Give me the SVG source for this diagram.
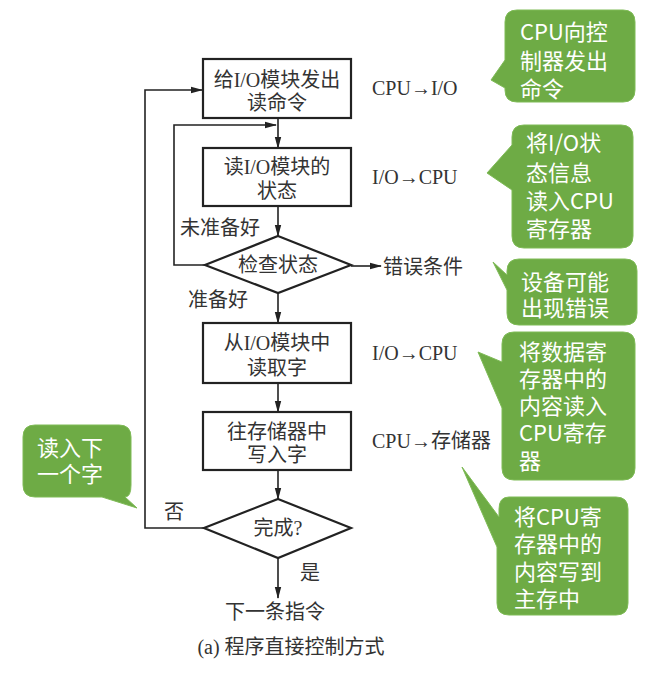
<svg xmlns="http://www.w3.org/2000/svg" width="653" height="675" viewBox="0 0 653 675">
<defs>
<marker id="ah" markerWidth="12" markerHeight="8" refX="11" refY="4" orient="auto" markerUnits="userSpaceOnUse">
<path d="M0,0.8 L12,4 L0,7.2 Z" fill="#222"/>
</marker>
<style>
.box{fill:#fff;stroke:#222;stroke-width:2.2}
.ln{fill:none;stroke:#222;stroke-width:1.6}
.t{font-family:"Liberation Serif","Noto Sans CJK SC",serif;font-size:20px;fill:#333}
.c{text-anchor:middle}
.g{fill:#6eab45;stroke:#7fbb57;stroke-width:1}
.gt{font-family:"Noto Sans CJK SC","Noto Sans",sans-serif;font-size:22px;fill:#fff}
</style>
</defs>
<rect width="653" height="675" fill="#fff"/>

<g id="connectors">
<line class="ln" x1="278" y1="118" x2="278" y2="148" marker-end="url(#ah)"/>
<line class="ln" x1="278" y1="206" x2="278" y2="236" marker-end="url(#ah)"/>
<line class="ln" x1="278" y1="293" x2="278" y2="323" marker-end="url(#ah)"/>
<line class="ln" x1="278" y1="383" x2="278" y2="412" marker-end="url(#ah)"/>
<line class="ln" x1="278" y1="470" x2="278" y2="499" marker-end="url(#ah)"/>
<line class="ln" x1="278" y1="558" x2="278" y2="598" marker-end="url(#ah)"/>
<line class="ln" x1="351" y1="266" x2="381" y2="266" marker-end="url(#ah)"/>
<polyline class="ln" points="205,265 174,265 174,125 276,125" marker-end="url(#ah)"/>
<polyline class="ln" points="204,528 145,528 145,90 202,90" marker-end="url(#ah)"/>
</g>

<g id="n1">
<rect class="box" x="203" y="59" width="148" height="59"/>
<text class="t c" x="277" y="87">给I/O模块发出</text>
<text class="t c" x="277" y="110">读命令</text>
</g>
<g id="n2">
<rect class="box" x="203" y="148" width="148" height="58"/>
<text class="t c" x="277" y="174">读I/O模块的</text>
<text class="t c" x="277" y="198">状态</text>
</g>
<g id="n3">
<polygon class="box" points="278,236 351,265 278,293 205,265"/>
<text class="t c" x="278" y="272">检查状态</text>
</g>
<g id="n4">
<rect class="box" x="203" y="323" width="148" height="60"/>
<text class="t c" x="277" y="350">从I/O模块中</text>
<text class="t c" x="277" y="375">读取字</text>
</g>
<g id="n5">
<rect class="box" x="203" y="412" width="148" height="58"/>
<text class="t c" x="277" y="439">往存储器中</text>
<text class="t c" x="277" y="462">写入字</text>
</g>
<g id="n6">
<polygon class="box" points="278,499 351,528 278,558 204,528"/>
<text class="t c" x="278" y="535">完成?</text>
</g>
<g id="n7">
<text class="t c" x="275" y="619">下一条指令</text>
</g>

<g id="labels">
<text class="t" x="180" y="235">未准备好</text>
<text class="t" x="188" y="307">准备好</text>
<text class="t" x="164" y="519">否</text>
<text class="t" x="300" y="580">是</text>
<text class="t" x="383" y="274">错误条件</text>
<text class="t" x="372" y="95">CPU→I/O</text>
<text class="t" x="372" y="184">I/O→CPU</text>
<text class="t" x="372" y="360">I/O→CPU</text>
<text class="t" x="372" y="448">CPU→存储器</text>
<text class="t c" x="291" y="654">(a) 程序直接控制方式</text>
</g>

<g id="callout1">
<path class="g" d="M517,10 H623 Q635,10 635,22 V90 Q635,102 623,102 H517 Q505,102 505,90 V88 L491,80 L505,60 V22 Q505,10 517,10 Z"/>
<text class="gt" x="520" y="40">CPU向控</text>
<text class="gt" x="520" y="69">制器发出</text>
<text class="gt" x="520" y="97">命令</text>
</g>
<g id="callout2">
<path class="g" d="M524,125 H621 Q633,125 633,137 V236 Q633,248 621,248 H524 Q512,248 512,236 V190 L487,173 L512,145 V137 Q512,125 524,125 Z"/>
<text class="gt" x="526" y="151">将I/O状</text>
<text class="gt" x="526" y="181">态信息</text>
<text class="gt" x="526" y="209">读入CPU</text>
<text class="gt" x="526" y="237">寄存器</text>
</g>
<g id="callout3">
<path class="g" d="M519,259 H625 Q637,259 637,271 V313 Q637,325 625,325 H519 Q507,325 507,313 V290 L493,262 L507,275 V271 Q507,259 519,259 Z"/>
<text class="gt" x="521" y="290">设备可能</text>
<text class="gt" x="521" y="316">出现错误</text>
</g>
<g id="callout4">
<path class="g" d="M514,332 H623 Q635,332 635,344 V468 Q635,480 623,480 H514 Q502,480 502,468 V408 L478,352 L502,362 V344 Q502,332 514,332 Z"/>
<text class="gt" x="519" y="360">将数据寄</text>
<text class="gt" x="519" y="387">存器中的</text>
<text class="gt" x="519" y="414">内容读入</text>
<text class="gt" x="519" y="441">CPU寄存</text>
<text class="gt" x="519" y="469">器</text>
</g>
<g id="callout5">
<path class="g" d="M509,497 H616 Q628,497 628,509 V603 Q628,615 616,615 H509 Q497,615 497,603 V547 L462,467 L499,517 V509 Q499,497 509,497 Z"/>
<text class="gt" x="514" y="525">将CPU寄</text>
<text class="gt" x="514" y="552">存器中的</text>
<text class="gt" x="514" y="580">内容写到</text>
<text class="gt" x="514" y="607">主存中</text>
</g>
<g id="callout6">
<path class="g" d="M35,425 H119 Q131,425 131,437 V485 Q131,497 125,497 L137,508 L102,497 H35 Q23,497 23,485 V437 Q23,425 35,425 Z"/>
<text class="gt" x="37" y="456">读入下</text>
<text class="gt" x="37" y="482">一个字</text>
</g>
</svg>
